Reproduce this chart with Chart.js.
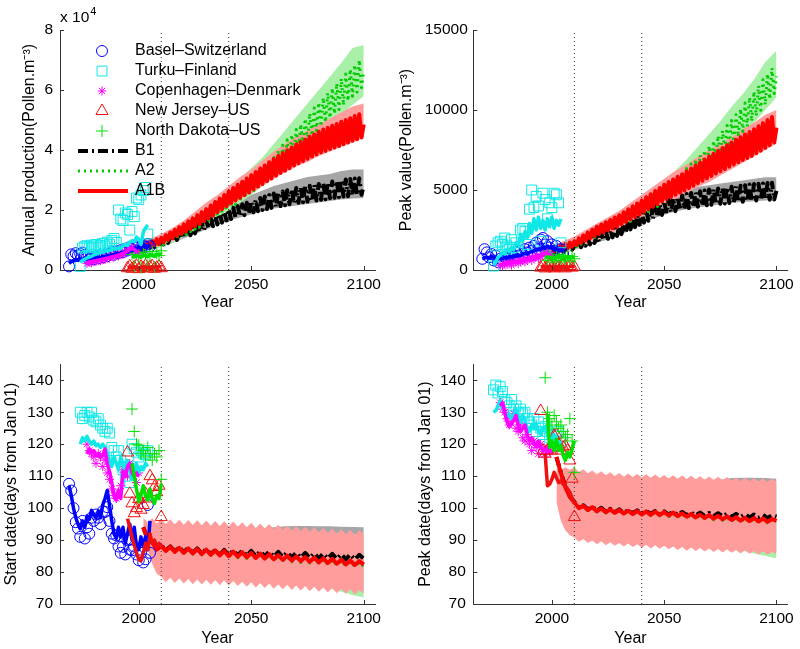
<!DOCTYPE html>
<html>
<head>
<meta charset="utf-8">
<title>Pollen: observations and projections</title>
<script src="https://cdn.jsdelivr.net/npm/chart.js@4.4.0/dist/chart.umd.min.js"></script>
<style>
  html, body { margin: 0; padding: 0; background: #fff; }
  #wrap { position: relative; width: 800px; height: 649px; overflow: hidden; }
  #wrap canvas { position: absolute; }
</style>
</head>
<body>
<div id="wrap">
  <canvas id="apChart" width="400" height="320" style="left:0;top:0"></canvas>
  <canvas id="pvChart" width="410" height="320" style="left:390px;top:0"></canvas>
  <canvas id="sdChart" width="400" height="329" style="left:0;top:320px"></canvas>
  <canvas id="pdChart" width="410" height="329" style="left:390px;top:320px"></canvas>
</div>
<script>
// ===================================
// Axis ticks and labels
// ===================================
const xTicks = [2000, 2050, 2100];
const periodYears = [2010, 2040];
const apTicks = [0, 20000, 40000, 60000, 80000];
const pvTicks = [0, 5000, 10000, 15000];
const dateTicks = [70, 80, 90, 100, 110, 120, 130, 140];

const stationNames = ["Basel\u2013Switzerland", "Turku\u2013Finland", "Copenhagen\u2013Denmark", "New Jersey\u2013US", "North Dakota\u2013US"];
const scenarioNames = ["B1", "A2", "A1B"];

// ===================================
// Years
// ===================================
const baselYears = [1969, 1970, 1971, 1972, 1973, 1974, 1975, 1976, 1977, 1978, 1979, 1980, 1981, 1982, 1983, 1984, 1985, 1986, 1987, 1988, 1989, 1990, 1991, 1992, 1993, 1994, 1995, 1996, 1997, 1998, 1999, 2000, 2001, 2002, 2003, 2004, 2005];
const turkuYears = [1974, 1975, 1976, 1977, 1978, 1979, 1980, 1981, 1982, 1983, 1984, 1985, 1986, 1987, 1988, 1989, 1990, 1991, 1992, 1993, 1994, 1995, 1996, 1997, 1998, 1999, 2000, 2001, 2002, 2003, 2004];
const copenhagenYears = [1977, 1978, 1979, 1980, 1981, 1982, 1983, 1984, 1985, 1986, 1987, 1988, 1989, 1990, 1991, 1992, 1993, 1994, 1995, 1996, 1997, 1998, 1999, 2000];
const newJerseyYears = [1995, 1996, 1997, 1998, 1999, 2000, 2001, 2002, 2003, 2004, 2005, 2006, 2007, 2008, 2009, 2010];
const northDakotaYears = [1997, 1998, 1999, 2000, 2001, 2002, 2003, 2004, 2005, 2006, 2007, 2008, 2009, 2010];

const annualYears = [2000, 2001, 2002, 2003, 2004, 2005, 2006, 2007, 2008, 2009, 2010, 2011, 2012, 2013, 2014, 2015, 2016, 2017, 2018, 2019, 2020, 2021, 2022, 2023, 2024, 2025, 2026, 2027, 2028, 2029, 2030, 2031, 2032, 2033, 2034, 2035, 2036, 2037, 2038, 2039, 2040, 2041, 2042, 2043, 2044, 2045, 2046, 2047, 2048, 2049, 2050, 2051, 2052, 2053, 2054, 2055, 2056, 2057, 2058, 2059, 2060, 2061, 2062, 2063, 2064, 2065, 2066, 2067, 2068, 2069, 2070, 2071, 2072, 2073, 2074, 2075, 2076, 2077, 2078, 2079, 2080, 2081, 2082, 2083, 2084, 2085, 2086, 2087, 2088, 2089, 2090, 2091, 2092, 2093, 2094, 2095, 2096, 2097, 2098, 2099, 2100];
const projYearsLate = [2002, 2004, 2006, 2008, 2010, 2012, 2014, 2016, 2018, 2020, 2022, 2024, 2026, 2028, 2030, 2032, 2034, 2036, 2038, 2040, 2042, 2044, 2046, 2048, 2050, 2052, 2054, 2056, 2058, 2060, 2062, 2064, 2066, 2068, 2070, 2072, 2074, 2076, 2078, 2080, 2082, 2084, 2086, 2088, 2090, 2092, 2094, 2096, 2098, 2100];
const bandYears = [2000, 2005, 2010, 2015, 2020, 2025, 2030, 2035, 2040, 2045, 2050, 2055, 2060, 2065, 2070, 2075, 2080, 2085, 2090, 2095, 2100];
const bandYearsLate = [2005, 2010, 2015, 2020, 2025, 2030, 2035, 2040, 2045, 2050, 2055, 2060, 2065, 2070, 2075, 2080, 2085, 2090, 2095, 2100];

// ===================================
// Annual production (Pollen.m-3)
// ===================================
const apBaselObs = [1200, 5200, 4600, 5600, 4900, 5400, 5800, 5000, 4200, 3500, 4200, 3600, 4500, 3900, 4800, 4200, 5000, 4600, 5400, 5900, 5100, 6200, 5700, 6600, 6000, 7100, 6500, 7600, 7000, 8100, 7400, 8400, 7600, 8200, 7700, 8700, 7900];
const apBaselFit = [2200, 2800, 3000, 3400, 3200, 3600, 3300, 3700, 3500, 3900, 3700, 4100, 3900, 4300, 4100, 4500, 4300, 4800, 4600, 5100, 4900, 5400, 5200, 5800, 5500, 6200, 5900, 6700, 6400, 7300, 7000, 7900, 7400, 8300, 7600, 8100, 7700];
const apTurkuObs = [1200, 7300, 7800, 8100, 7400, 8300, 7700, 8500, 7600, 8200, 8900, 8000, 9300, 8600, 9800, 10500, 9200, 20000, 17000, 16500, 19000, 18500, 13300, 19500, 17800, 24000, 23500, 25000, 26500, 27500, 12000];
const apTurkuFit = [2500, 3200, 3600, 4000, 4300, 4600, 5000, 5300, 5500, 5800, 6000, 6300, 6400, 6600, 6800, 7200, 7000, 7400, 7100, 8000, 8600, 8200, 9300, 9800, 9400, 11000, 10200, 8500, 12500, 14000, 15000];
const apCopenhagenObs = [2200, 2600, 2400, 3000, 2800, 3300, 3100, 3700, 3500, 4100, 3900, 4500, 4300, 5000, 4700, 5400, 5200, 6000, 6400, 7000, 7600, 6800, 6000, 5300];
const apCopenhagenFit = [2500, 2700, 2800, 3000, 3100, 3300, 3400, 3600, 3800, 4000, 4100, 4400, 4500, 4800, 5000, 5300, 5500, 5900, 6300, 6800, 7300, 6900, 6200, 5600];
const apNewJerseyObs = [600, 1200, 400, 900, 1500, 300, 1100, 700, 1400, 500, 1000, 1300, 400, 800, 1200, 600];
const apNewJerseyFit = [900, 1000, 800, 1100, 1000, 700, 900, 1100, 900, 1000, 800, 1100, 900, 1000, 1200, 900];
const apNorthDakotaObs = [5200, 1200, 5800, 4600, 800, 6000, 5400, 1500, 5000, 6200, 900, 5600, 4800, 6400];
const apNorthDakotaFit = [4600, 4300, 4900, 4500, 4200, 5000, 4700, 4400, 5100, 4800, 4500, 5200, 5000, 5400];

const apB1 = [7500, 6700, 8000, 7000, 8400, 7400, 8900, 7700, 9300, 8000, 9800, 8500, 10400, 9000, 11000, 9500, 11700, 10000, 12300, 10500, 12900, 11000, 13600, 11600, 14300, 12200, 15000, 12700, 15700, 13300, 16400, 13900, 17200, 14600, 17900, 15200, 18700, 15800, 19400, 16500, 20200, 17000, 20800, 17500, 21300, 17900, 21900, 18300, 22400, 18800, 23000, 19200, 23500, 19600, 24000, 20000, 24500, 20300, 25000, 20700, 25500, 21000, 25900, 21300, 26200, 21600, 26600, 21900, 26900, 22200, 27300, 22400, 27600, 22600, 27900, 22800, 28100, 23000, 28400, 23200, 28700, 23400, 29000, 23600, 29200, 23900, 29500, 24100, 29700, 24300, 30000, 24500, 30200, 24600, 30300, 24800, 30500, 25000, 30600, 25100, 28000];
const apA2 = [7600, 6600, 8100, 6900, 8600, 7300, 9000, 7700, 9500, 8000, 10000, 8500, 10800, 9200, 11600, 9900, 12500, 10500, 13300, 11200, 14100, 11900, 15100, 12800, 16100, 13600, 17100, 14400, 18100, 15300, 19100, 16200, 20200, 17100, 21300, 18100, 22500, 19100, 23600, 20000, 24700, 21000, 25800, 21900, 27000, 22900, 28100, 23800, 29300, 24700, 30400, 25900, 32000, 27200, 33500, 28500, 35100, 29800, 36600, 31100, 38200, 32500, 39900, 34000, 41600, 35500, 43400, 37000, 45100, 38500, 46800, 40000, 48600, 41600, 50400, 43200, 52200, 44800, 54000, 46400, 55800, 47900, 57400, 49300, 59000, 50700, 60600, 52100, 62200, 53500, 63800, 54900, 65300, 56400, 66900, 57900, 68400, 59300, 70000, 60800, 66500];
const apA1B = [8100, 7100, 8600, 7500, 9100, 7900, 9700, 8300, 10200, 8700, 10700, 9300, 11600, 10000, 12500, 10700, 13400, 11400, 14300, 12100, 15200, 12800, 16200, 13700, 17200, 14600, 18300, 15400, 19300, 16300, 20300, 17200, 21500, 18200, 22700, 19300, 23800, 20300, 25000, 21300, 26200, 22300, 27300, 23200, 28400, 24100, 29400, 25000, 30500, 25900, 31600, 26900, 32700, 27800, 33800, 28700, 34800, 29600, 35900, 30500, 37000, 31400, 38000, 32300, 38900, 33100, 39900, 33900, 40800, 34800, 41800, 35600, 42700, 36300, 43500, 37100, 44400, 37800, 45200, 38500, 46100, 39200, 46800, 39700, 47400, 40300, 48100, 40800, 48700, 41300, 49400, 41900, 50000, 42500, 50600, 43100, 51300, 43600, 51900, 44200, 48500];
const apB1Lo = [5800, 6800, 7700, 9000, 10500, 12000, 13500, 15000, 16500, 17500, 18500, 19500, 20500, 21000, 21500, 22000, 22500, 23000, 23500, 23800, 24000];
const apB1Hi = [9000, 10000, 11000, 13000, 15000, 17000, 18500, 20500, 22000, 23500, 25000, 26500, 28000, 29000, 30000, 31000, 31500, 32000, 33000, 33500, 33500];
const apA2Lo = [5800, 6800, 7700, 9000, 11000, 13000, 15000, 17500, 20000, 22500, 25000, 28000, 31500, 35000, 38500, 42000, 46000, 49500, 52000, 55000, 58000];
const apA2Hi = [9000, 10200, 11500, 13500, 16000, 19000, 21500, 24500, 27500, 30500, 34000, 37500, 42000, 46500, 51000, 55500, 60000, 64500, 69000, 74000, 75000];
const apA1BLo = [6000, 7000, 8000, 9500, 11500, 14000, 16000, 18500, 21000, 23500, 25500, 28000, 30500, 32500, 34500, 36000, 38000, 39500, 41000, 42500, 44000];
const apA1BHi = [9500, 10500, 12000, 14000, 16500, 19500, 22500, 25000, 28000, 31000, 33500, 36500, 39500, 42000, 44500, 46500, 48500, 50500, 52500, 54500, 55500];

// ===================================
// Peak value (Pollen.m-3)
// ===================================
const pvBaselObs = [700, 1300, 1100, 800, 1000, 600, 900, 500, 700, 600, 800, 700, 900, 1000, 800, 1100, 900, 1200, 1000, 1300, 1100, 1400, 1200, 1500, 1700, 1300, 1900, 2000, 1600, 1800, 1400, 1600, 1200, 1500, 1100, 1300, 1000];
const pvBaselFit = [700, 750, 800, 750, 850, 800, 750, 700, 750, 700, 800, 750, 850, 800, 900, 850, 950, 900, 1000, 1050, 1000, 1100, 1150, 1200, 1250, 1300, 1250, 1450, 1350, 1500, 1400, 1450, 1300, 1350, 1200, 1250, 1150];
const pvTurkuObs = [250, 1500, 1700, 1800, 1600, 2000, 1500, 1300, 1900, 1400, 1700, 1200, 2500, 2600, 2400, 1600, 3800, 5000, 3900, 4600, 4000, 1800, 4800, 4400, 3200, 4200, 3900, 4800, 4700, 4200, 1700];
const pvTurkuFit = [300, 500, 800, 900, 1100, 1000, 1300, 1200, 1400, 1300, 1700, 1600, 2200, 1800, 2400, 2000, 2900, 2300, 3200, 2500, 3300, 2600, 3100, 2500, 3200, 2700, 3300, 2600, 3100, 2800, 3200];
const pvCopenhagenObs = [300, 250, 400, 350, 500, 300, 450, 600, 400, 550, 700, 500, 650, 800, 600, 750, 900, 700, 850, 1000, 1200, 900, 1100, 800];
const pvCopenhagenFit = [350, 350, 400, 400, 450, 450, 500, 500, 550, 550, 600, 600, 650, 700, 700, 750, 800, 800, 850, 950, 1050, 1000, 950, 900];
const pvNewJerseyObs = [150, 250, 100, 200, 300, 150, 100, 250, 200, 150, 300, 100, 200, 250, 150, 200];
const pvNewJerseyFit = [200, 220, 180, 210, 240, 200, 170, 210, 230, 190, 220, 200, 180, 210, 230, 200];
const pvNorthDakotaObs = [900, 600, 1000, 750, 500, 850, 950, 600, 800, 700, 900, 550, 850, 700];
const pvNorthDakotaFit = [850, 780, 820, 760, 700, 800, 860, 740, 790, 760, 820, 740, 800, 780];

const pvB1 = [1200, 1030, 1280, 1090, 1360, 1150, 1440, 1210, 1520, 1270, 1600, 1340, 1710, 1430, 1830, 1520, 1940, 1600, 2060, 1690, 2170, 1770, 2280, 1860, 2390, 1950, 2510, 2040, 2620, 2130, 2730, 2240, 2900, 2390, 3080, 2540, 3250, 2680, 3430, 2830, 3600, 2960, 3740, 3080, 3880, 3200, 4020, 3320, 4160, 3440, 4300, 3540, 4390, 3610, 4480, 3680, 4570, 3750, 4660, 3820, 4750, 3870, 4810, 3920, 4860, 3960, 4920, 4000, 4970, 4050, 5030, 4080, 5060, 4110, 5100, 4140, 5130, 4160, 5170, 4190, 5200, 4210, 5230, 4240, 5270, 4270, 5300, 4290, 5340, 4320, 5370, 4340, 5390, 4360, 5410, 4380, 5440, 4390, 5460, 4410, 4950];
const pvA2 = [1250, 1090, 1340, 1160, 1430, 1230, 1520, 1300, 1610, 1370, 1700, 1470, 1880, 1610, 2060, 1760, 2230, 1900, 2410, 2040, 2590, 2160, 2720, 2270, 2850, 2380, 2990, 2490, 3120, 2600, 3250, 2730, 3440, 2880, 3620, 3040, 3810, 3190, 3990, 3340, 4180, 3500, 4360, 3650, 4550, 3810, 4730, 3970, 4920, 4120, 5100, 4310, 5350, 4520, 5600, 4730, 5850, 4940, 6100, 5150, 6350, 5370, 6630, 5610, 6910, 5850, 7190, 6090, 7470, 6330, 7750, 6590, 8070, 6870, 8390, 7150, 8710, 7430, 9030, 7710, 9350, 8010, 9710, 8330, 10070, 8650, 10430, 8970, 10790, 9290, 11150, 9630, 11520, 9980, 11890, 10330, 12260, 10680, 12630, 11030, 12100];
const pvA1B = [1350, 1190, 1440, 1260, 1530, 1330, 1620, 1400, 1710, 1470, 1800, 1570, 1980, 1710, 2160, 1850, 2340, 1990, 2520, 2130, 2700, 2260, 2840, 2370, 2990, 2490, 3130, 2610, 3280, 2720, 3420, 2860, 3610, 3010, 3790, 3170, 3980, 3320, 4160, 3470, 4350, 3630, 4550, 3800, 4740, 3960, 4940, 4120, 5130, 4290, 5330, 4440, 5500, 4570, 5660, 4710, 5830, 4840, 5990, 4970, 6160, 5120, 6350, 5270, 6530, 5430, 6720, 5580, 6900, 5730, 7090, 5880, 7270, 6030, 7440, 6170, 7620, 6310, 7790, 6460, 7970, 6600, 8140, 6730, 8300, 6870, 8470, 7000, 8630, 7130, 8800, 7290, 8990, 7460, 9180, 7630, 9370, 7800, 9560, 7970, 8900];
const pvB1Lo = [850, 1050, 1250, 1450, 1700, 1900, 2150, 2500, 2850, 3200, 3450, 3650, 3800, 3900, 4000, 4100, 4200, 4250, 4300, 4350, 4400];
const pvB1Hi = [1450, 1700, 1950, 2250, 2550, 2800, 3150, 3550, 3950, 4300, 4600, 4850, 5050, 5200, 5300, 5400, 5500, 5600, 5700, 5800, 5800];
const pvA2Lo = [850, 1050, 1250, 1550, 1850, 2100, 2400, 2800, 3200, 3600, 4000, 4500, 5100, 5700, 6300, 7000, 7700, 8400, 9200, 10000, 10800];
const pvA2Hi = [1450, 1750, 2050, 2450, 2850, 3250, 3650, 4100, 4600, 5100, 5600, 6200, 6900, 7700, 8500, 9300, 10200, 11000, 11900, 13000, 13700];
const pvA1BLo = [900, 1100, 1300, 1600, 1900, 2200, 2500, 2900, 3300, 3700, 4100, 4400, 4800, 5200, 5500, 5900, 6300, 6700, 7100, 7500, 7900];
const pvA1BHi = [1500, 1800, 2100, 2500, 2900, 3300, 3700, 4200, 4700, 5200, 5700, 6200, 6600, 7100, 7500, 7900, 8300, 8800, 9200, 9700, 10000];

// ===================================
// Start date (days from Jan 01)
// ===================================
const sdBaselObs = [107.6, 105.5, 100, 95.6, 93.6, 91, 96, 90.5, 94, 92, 97, 96, 98, 97, 95, 99, 98.8, 100.3, 96, 92, 90.5, 91.5, 88, 86, 87.9, 85.5, 89.9, 87, 86.8, 88, 85.5, 83.7, 86, 83, 84, 101, 86];
const sdBaselFit = [107, 104, 100, 97, 95, 93.5, 96, 94, 97.5, 96.5, 99.3, 98, 97, 99, 97, 101, 103, 105.5, 101, 96, 92, 90.5, 94, 91, 94, 89, 92, 95, 90, 94, 88, 87, 91, 88, 91, 87, 96];
const sdTurkuObs = [130, 128, 129, 130, 128.5, 130, 127.5, 127, 128, 126, 125, 124, 125, 123.5, 119, 118, 116, 118, 115, 112, 110, 113, 108, 120, 118.6, 117.5, 116, 118, 117, 116.7, 118];
const sdTurkuFit = [120, 122, 121, 122.5, 121, 120, 121, 119.5, 120, 119, 120, 119, 117, 115, 113, 116, 114, 112, 116, 114, 111, 115, 112, 109, 112, 114, 111, 113, 112, 114, 113];
const sdCopenhagenObs = [120, 118, 117, 116, 114, 117, 116, 113, 115, 111, 109, 106, 104, 103, 105, 107, 112, 113, 110, 114, 112, 110, 108, 111];
const sdCopenhagenFit = [117, 118.5, 117.5, 118, 116.5, 117, 116, 116.5, 118.5, 114, 111.5, 108, 104, 102.5, 105.5, 103, 111.5, 110, 113, 114, 111, 110, 111, 110];
const sdNewJerseyObs = [117.4, 104.5, 101.5, 98.4, 100, 102.8, 99.5, 101, 104.5, 103, 110, 108.7, 106.6, 105, 107, 97.2];
const sdNewJerseyFit = [96.7, 94, 91, 88.5, 86, 84, 83.5, 86, 89, 87, 92, 89, 90, 88, 89, 88];
const sdNorthDakotaObs = [131, 124, 120, 119.7, 117, 118, 116, 119, 117, 115, 117, 116, 118, 109];
const sdNorthDakotaFit = [114, 110, 106, 102, 104, 107, 104, 102.5, 106, 103, 101.5, 104, 103, 107.6];

const sdB1 = [94, 90.2, 89.5, 87.2, 88.4, 86.8, 88.0, 86.5, 87.8, 86.2, 87.6, 86.0, 87.4, 85.8, 87.2, 85.6, 87.0, 85.4, 86.9, 85.3, 86.8, 85.2, 86.7, 85.1, 86.6, 85.0, 86.5, 84.9, 86.4, 84.8, 86.3, 84.7, 86.2, 84.6, 86.1, 84.5, 86.0, 84.4, 85.9, 84.3, 85.8, 84.2, 85.7, 84.1, 85.6, 84.0, 85.5, 83.9, 85.4, 84.2];
const sdA2 = [93.8, 89.8, 89.0, 86.8, 88.0, 86.4, 87.7, 86.1, 87.4, 85.8, 87.2, 85.6, 87.0, 85.4, 86.8, 85.2, 86.6, 85.0, 86.4, 84.8, 86.1, 84.5, 85.9, 84.3, 85.7, 84.1, 85.4, 83.9, 85.2, 83.6, 85.0, 83.4, 84.7, 83.2, 84.5, 83.0, 84.3, 82.8, 84.1, 82.6, 83.8, 82.4, 83.6, 82.2, 83.4, 82.0, 83.1, 81.8, 82.9, 81.8];
const sdA1B = [94, 90, 89.3, 87.0, 88.2, 86.6, 87.9, 86.3, 87.6, 86.0, 87.4, 85.8, 87.2, 85.6, 87.0, 85.4, 86.8, 85.2, 86.6, 85.0, 86.4, 84.8, 86.2, 84.6, 86.0, 84.4, 85.8, 84.2, 85.6, 84.0, 85.3, 83.8, 85.1, 83.6, 84.9, 83.4, 84.7, 83.2, 84.5, 83.0, 84.3, 82.8, 84.1, 82.6, 83.8, 82.4, 83.6, 82.2, 83.4, 82.3];
const sdB1Lo = [86, 79, 78.3, 78.0, 77.9, 77.8, 77.6, 77.4, 77.2, 77.0, 76.8, 76.6, 76.4, 76.2, 76.0, 75.8, 75.6, 75.4, 75.2, 75.0];
const sdB1Hi = [95.0, 94.9, 94.8, 94.7, 94.6, 94.4, 94.3, 94.2, 94.0, 93.8, 93.6, 94.0, 94.3, 94.4, 94.4, 94.3, 94.3, 94.2, 94.1, 94.0];
const sdA2Lo = [86, 79, 78.3, 78.0, 77.9, 77.8, 77.6, 77.4, 77.2, 77.0, 76.8, 76.6, 76.4, 76.2, 76.0, 75.6, 74.8, 73.8, 72.8, 72.0];
const sdA2Hi = [94.8, 94.7, 94.6, 94.5, 94.4, 94.2, 94.1, 94.0, 93.8, 93.6, 93.4, 93.2, 93.0, 92.8, 92.6, 92.4, 92.2, 92.0, 91.8, 91.5];
const sdA1BLo = [93, 87, 82.5, 79.5, 78.5, 76.8, 78.2, 76.6, 78.0, 76.4, 77.8, 76.2, 77.7, 76.1, 77.6, 76.0, 77.5, 75.9, 77.4, 75.8, 77.2, 75.6, 77.0, 75.4, 76.8, 75.2, 76.6, 75.0, 76.4, 74.8, 76.2, 74.6, 76.0, 74.4, 75.8, 74.2, 75.6, 74.0, 75.4, 73.8, 75.2, 73.6, 75.0, 73.4, 74.8, 73.2, 74.6, 73.0, 74.4, 73.2];
const sdA1BHi = [97, 95.5, 96.8, 95.2, 96.6, 95.0, 96.5, 94.9, 96.4, 94.8, 96.3, 94.7, 96.2, 94.6, 96.1, 94.5, 96.0, 94.4, 95.9, 94.3, 95.8, 94.2, 95.6, 94.0, 95.4, 93.8, 95.2, 93.6, 95.0, 93.4, 94.8, 93.2, 94.6, 93.0, 94.4, 92.8, 94.2, 92.6, 94.0, 92.4, 93.8, 92.2, 93.6, 92.0, 93.4, 91.8, 93.2, 91.6, 93.0, 92.0];

// ===================================
// Peak date (days from Jan 01) - no Basel record
// ===================================
const pdTurkuObs = [137, 138.5, 136, 138, 136.5, 134, 133, 132, 134, 131, 132, 130, 131, 129.5, 130, 128, 127, 126, 128, 124, 127, 125, 123, 125.5, 124, 122, 123, 121, 122.5, 124, 121];
const pdTurkuFit = [130, 130.5, 132, 133.5, 131.5, 130, 128.5, 129.5, 128, 129, 131, 128.5, 127, 129, 127.5, 125, 124, 126, 125, 126.5, 124, 123, 125, 125.5, 123, 122, 121.5, 123, 121, 120, 121];
const pdCopenhagenObs = [133, 131, 130, 128, 126, 127, 129.5, 125, 124, 126, 122, 121, 123, 120, 118, 121, 119, 117, 120, 118.5, 117, 119, 117.5, 118];
const pdCopenhagenFit = [132, 133, 130, 127, 125.5, 126.3, 127.5, 129, 126, 124, 125, 126, 123, 121, 122, 120, 119.5, 121, 119, 118, 118.5, 117.5, 118, 117.5];
const pdNewJerseyObs = [130.4, 118, 117, 118, 119, 118, 122.6, 123, 120, 118, 119, 119.5, 118, 114.9, 109.2, 97.2];
const pdNewJerseyFit = [null, null, 117, 107, 107.5, 109, 111.2, 109.5, 108, 108.5, 107.5, 107, 106, 105, 103, 101.5];
const pdNorthDakotaObs = [140.8, 130, 128, 126, 129, 127, 125, 126, 124, 122, 123, 128, 121, 111.2];
const pdNorthDakotaFit = [null, 129.4, 119, 121, 118, 121.5, 118, 119.5, 116.5, 115, 117.5, 116, 118.5, 121];

const pdB1 = [116.0, 111.2, 106.7, 103.7, 102.0, 100.2, 100.9, 99.6, 100.5, 99.2, 100.1, 98.9, 99.8, 98.7, 99.6, 98.5, 99.4, 98.4, 99.3, 98.3, 99.2, 98.2, 99.1, 98.1, 99.0, 98.0, 98.9, 97.9, 98.8, 97.8, 98.7, 97.7, 98.6, 97.6, 98.5, 97.5, 98.4, 97.4, 98.3, 97.3, 98.2, 97.2, 98.1, 97.1, 98.0, 97.0, 97.9, 96.9, 97.8, 97.3];
const pdA2 = [115.8, 110.8, 106.3, 103.3, 101.6, 99.8, 100.5, 99.2, 100.1, 98.8, 99.7, 98.5, 99.4, 98.3, 99.2, 98.1, 99.0, 97.9, 98.9, 97.8, 98.8, 97.7, 98.7, 97.6, 98.5, 97.4, 98.3, 97.2, 98.1, 97.0, 97.9, 96.8, 97.7, 96.6, 97.5, 96.4, 97.3, 96.2, 97.1, 96.0, 96.9, 95.8, 96.7, 95.6, 96.6, 95.5, 96.5, 95.4, 96.3, 95.7];
const pdA1B = [116.0, 111.0, 106.5, 103.5, 101.8, 100.0, 100.7, 99.4, 100.3, 99.0, 99.9, 98.7, 99.6, 98.5, 99.4, 98.3, 99.2, 98.1, 99.1, 98.0, 99.0, 97.9, 98.9, 97.8, 98.8, 97.7, 98.6, 97.5, 98.4, 97.3, 98.2, 97.1, 98.0, 96.9, 97.8, 96.7, 97.6, 96.5, 97.4, 96.3, 97.2, 96.1, 97.0, 95.9, 96.9, 95.8, 96.8, 95.7, 96.6, 96.0];
const pdB1Lo = [95, 91.0, 90.4, 90.0, 89.6, 89.3, 89.1, 88.9, 88.7, 88.5, 88.3, 88.1, 87.9, 87.7, 87.6, 87.4, 87.2, 87.0, 86.8, 86.6];
const pdB1Hi = [111.8, 111.4, 110.8, 110.5, 110.2, 109.8, 109.6, 109.5, 109.4, 109.3, 109.2, 109.1, 109.0, 108.9, 108.9, 109.4, 109.5, 109.5, 109.4, 109.2];
const pdA2Lo = [95, 91.0, 90.4, 90.0, 89.6, 89.3, 89.1, 88.9, 88.7, 88.5, 88.3, 88.1, 87.9, 87.7, 87.5, 87.2, 86.7, 85.8, 85.0, 84.3];
const pdA2Hi = [111.6, 111.2, 110.6, 110.3, 110.0, 109.6, 109.4, 109.3, 109.2, 109.1, 109.0, 108.9, 108.8, 108.7, 108.6, 108.5, 108.4, 108.3, 108.2, 108.0];
const pdA1BLo = [102, 96, 93, 91.5, 90.8, 89.5, 90.3, 89.1, 89.9, 88.7, 89.6, 88.4, 89.3, 88.2, 89.1, 88.0, 88.9, 87.8, 88.7, 87.6, 88.5, 87.4, 88.4, 87.3, 88.2, 87.1, 88.0, 86.9, 87.8, 86.7, 87.7, 86.6, 87.5, 86.4, 87.4, 86.3, 87.2, 86.1, 87.1, 86.0, 86.9, 85.8, 86.8, 85.7, 86.6, 85.5, 86.5, 85.4, 86.3, 85.6];
const pdA1BHi = [112.5, 112.0, 112.8, 112.0, 112.8, 111.3, 112.2, 110.9, 111.8, 110.6, 111.5, 110.3, 111.2, 110.0, 111.0, 109.8, 110.8, 109.7, 110.7, 109.6, 110.6, 109.5, 110.5, 109.4, 110.4, 109.3, 110.3, 109.2, 110.2, 109.1, 110.1, 109.0, 110.0, 108.9, 109.9, 108.8, 109.8, 108.7, 109.7, 108.6, 109.6, 108.5, 109.5, 108.4, 109.4, 108.3, 109.3, 108.2, 109.2, 108.3];

// ===================================
// Styles
// ===================================
const FONT_FAMILY = '"Liberation Sans", Arial, Helvetica, sans-serif';
const TICK_FONT = { family: FONT_FAMILY, size: 15.5 };
const TITLE_FONT = { family: FONT_FAMILY, size: 16 };
const AXIS_COLOR = "#333";

const stationStyles = [
  { color: "#0000ff", pointStyle: "circle", radius: 5.5 },
  { color: "#10e8e8", pointStyle: "rect", radius: 7 },
  { color: "#ff00ff", pointStyle: "star", radius: 4.5 },
  { color: "#ee1111", pointStyle: "triangle", radius: 7 },
  { color: "#00e000", pointStyle: "cross", radius: 6 },
];

const scenarioStyles = [
  { color: "#000000", dash: [10, 4, 2, 4], width: 4, band: "#a6a6a6" },
  { color: "#00cc00", dash: [2, 4], width: 3, band: "#a8f0a8" },
  { color: "#ff0000", dash: [], width: 4, band: "#ff9c9c" },
];

// ===================================
// Panels
// ===================================
const apPanel = {
  obs: [
    { years: baselYears, obs: apBaselObs, fit: apBaselFit },
    { years: turkuYears, obs: apTurkuObs, fit: apTurkuFit },
    { years: copenhagenYears, obs: apCopenhagenObs, fit: apCopenhagenFit },
    { years: newJerseyYears, obs: apNewJerseyObs, fit: apNewJerseyFit },
    { years: northDakotaYears, obs: apNorthDakotaObs, fit: apNorthDakotaFit },
  ],
  scen: [
    { years: annualYears, values: apB1, bandYears: bandYears, lo: apB1Lo, hi: apB1Hi },
    { years: annualYears, values: apA2, bandYears: bandYears, lo: apA2Lo, hi: apA2Hi },
    { years: annualYears, values: apA1B, bandYears: bandYears, lo: apA1BLo, hi: apA1BHi },
  ],
};

const pvPanel = {
  obs: [
    { years: baselYears, obs: pvBaselObs, fit: pvBaselFit },
    { years: turkuYears, obs: pvTurkuObs, fit: pvTurkuFit },
    { years: copenhagenYears, obs: pvCopenhagenObs, fit: pvCopenhagenFit },
    { years: newJerseyYears, obs: pvNewJerseyObs, fit: pvNewJerseyFit },
    { years: northDakotaYears, obs: pvNorthDakotaObs, fit: pvNorthDakotaFit },
  ],
  scen: [
    { years: annualYears, values: pvB1, bandYears: bandYears, lo: pvB1Lo, hi: pvB1Hi },
    { years: annualYears, values: pvA2, bandYears: bandYears, lo: pvA2Lo, hi: pvA2Hi },
    { years: annualYears, values: pvA1B, bandYears: bandYears, lo: pvA1BLo, hi: pvA1BHi },
  ],
};

const sdPanel = {
  obs: [
    { years: baselYears, obs: sdBaselObs, fit: sdBaselFit },
    { years: turkuYears, obs: sdTurkuObs, fit: sdTurkuFit },
    { years: copenhagenYears, obs: sdCopenhagenObs, fit: sdCopenhagenFit },
    { years: newJerseyYears, obs: sdNewJerseyObs, fit: sdNewJerseyFit },
    { years: northDakotaYears, obs: sdNorthDakotaObs, fit: sdNorthDakotaFit },
  ],
  scen: [
    { years: projYearsLate, values: sdB1, bandYears: bandYearsLate, lo: sdB1Lo, hi: sdB1Hi },
    { years: projYearsLate, values: sdA2, bandYears: bandYearsLate, lo: sdA2Lo, hi: sdA2Hi },
    { years: projYearsLate, values: sdA1B, bandYears: projYearsLate, lo: sdA1BLo, hi: sdA1BHi },
  ],
};

const pdPanel = {
  obs: [
    null,
    { years: turkuYears, obs: pdTurkuObs, fit: pdTurkuFit },
    { years: copenhagenYears, obs: pdCopenhagenObs, fit: pdCopenhagenFit },
    { years: newJerseyYears, obs: pdNewJerseyObs, fit: pdNewJerseyFit },
    { years: northDakotaYears, obs: pdNorthDakotaObs, fit: pdNorthDakotaFit },
  ],
  scen: [
    { years: projYearsLate, values: pdB1, bandYears: bandYearsLate, lo: pdB1Lo, hi: pdB1Hi },
    { years: projYearsLate, values: pdA2, bandYears: bandYearsLate, lo: pdA2Lo, hi: pdA2Hi },
    { years: projYearsLate, values: pdA1B, bandYears: projYearsLate, lo: pdA1BLo, hi: pdA1BHi },
  ],
};

// ===================================
// Dataset builder
// ===================================
function pts(xs, ys) {
  return xs.map((x, i) => ({ x: x, y: ys[i] }));
}

function buildDatasets(panel, yMin, yMax) {
  const sets = [];

  // Uncertainty bands: lower edge, then upper edge filled down to it
  panel.scen.forEach((s, i) => {
    const sc = scenarioStyles[i];
    sets.push({ data: pts(s.bandYears, s.lo), borderWidth: 0, borderColor: "rgba(0,0,0,0)", pointRadius: 0, fill: false });
    sets.push({ data: pts(s.bandYears, s.hi), borderWidth: 0, borderColor: "rgba(0,0,0,0)", pointRadius: 0, fill: "-1", backgroundColor: sc.band });
  });

  // Dotted period markers
  periodYears.forEach((yr) => {
    sets.push({
      data: [{ x: yr, y: yMin }, { x: yr, y: yMax }],
      borderColor: "#333", borderWidth: 1, borderDash: [1, 3], pointRadius: 0, fill: false,
    });
  });

  // Scenario lines
  panel.scen.forEach((s, i) => {
    const sc = scenarioStyles[i];
    sets.push({
      data: pts(s.years, s.values), borderColor: sc.color, borderWidth: sc.width,
      borderDash: sc.dash, borderJoinStyle: "round", pointRadius: 0, fill: false,
    });
  });

  // Station observations (markers)
  panel.obs.forEach((o, i) => {
    if (!o) return;
    const st = stationStyles[i];
    sets.push({
      data: pts(o.years, o.obs), showLine: false, borderColor: st.color,
      pointStyle: st.pointStyle, pointRadius: st.radius, pointBorderColor: st.color,
      pointBackgroundColor: "rgba(0,0,0,0)", pointBorderWidth: 1, fill: false, clip: 10,
    });
  });

  // Station model lines
  panel.obs.forEach((o, i) => {
    if (!o) return;
    const st = stationStyles[i];
    sets.push({
      data: pts(o.years, o.fit), borderColor: st.color, borderWidth: 3.5,
      borderJoinStyle: "round", pointRadius: 0, fill: false,
    });
  });

  // First pushed = drawn first (at the back)
  sets.forEach((d, i) => { d.order = sets.length - i; });
  return sets;
}

// ===================================
// Plugins
// ===================================
const inwardTicks = {
  id: "inwardTicks",
  afterDraw(chart) {
    const { ctx, chartArea, scales } = chart;
    ctx.save();
    ctx.strokeStyle = AXIS_COLOR;
    ctx.lineWidth = 1;
    scales.x.ticks.forEach((t) => {
      const px = Math.round(scales.x.getPixelForValue(t.value)) + 0.5;
      ctx.beginPath();
      ctx.moveTo(px, chartArea.bottom);
      ctx.lineTo(px, chartArea.bottom - 4);
      ctx.stroke();
    });
    scales.y.ticks.forEach((t) => {
      const py = Math.round(scales.y.getPixelForValue(t.value)) + 0.5;
      ctx.beginPath();
      ctx.moveTo(chartArea.left, py);
      ctx.lineTo(chartArea.left + 4, py);
      ctx.stroke();
    });
    ctx.restore();
  },
};

const exponentLabel = {
  id: "exponentLabel",
  afterDraw(chart) {
    const { ctx, chartArea } = chart;
    ctx.save();
    ctx.fillStyle = "#000";
    ctx.textBaseline = "alphabetic";
    ctx.font = "15.5px " + FONT_FAMILY;
    const base = "x 10";
    ctx.fillText(base, chartArea.left, chartArea.top - 8);
    const w = ctx.measureText(base).width;
    ctx.font = "11px " + FONT_FAMILY;
    ctx.fillText("4", chartArea.left + w + 1, chartArea.top - 15);
    ctx.restore();
  },
};

const panelLegend = {
  id: "panelLegend",
  afterDatasetsDraw(chart) {
    const { ctx, chartArea } = chart;
    const names = stationNames.concat(scenarioNames);
    const markerX = chartArea.left + 42;
    ctx.save();
    ctx.font = "16px " + FONT_FAMILY;
    ctx.textBaseline = "middle";
    names.forEach((name, i) => {
      const y = chartArea.top + 21 + i * 20;
      if (i < stationStyles.length) {
        const st = stationStyles[i];
        ctx.strokeStyle = st.color;
        ctx.fillStyle = "rgba(0,0,0,0)";
        ctx.lineWidth = 1;
        Chart.helpers.drawPoint(ctx, { pointStyle: st.pointStyle, radius: st.radius, rotation: 0, borderWidth: 1 }, markerX, y);
      } else {
        const sc = scenarioStyles[i - stationStyles.length];
        ctx.strokeStyle = sc.color;
        ctx.lineWidth = sc.width;
        ctx.setLineDash(sc.dash);
        ctx.beginPath();
        ctx.moveTo(markerX - 24, y);
        ctx.lineTo(markerX + 26, y);
        ctx.stroke();
        ctx.setLineDash([]);
      }
      ctx.fillStyle = "#000";
      ctx.fillText(name, chartArea.left + 75, y);
    });
    ctx.restore();
  },
};

// ===================================
// Chart factory
// ===================================
function makeChart(id, panel, axis, layout, extraPlugins) {
  const ctx = document.getElementById(id).getContext("2d");
  return new Chart(ctx, {
    type: "line",
    data: { datasets: buildDatasets(panel, axis.min, axis.max) },
    options: {
      responsive: false,
      animation: false,
      devicePixelRatio: 1,
      layout: { padding: { left: 0, top: layout.top, right: layout.right, bottom: 0 } },
      plugins: { legend: { display: false }, tooltip: { enabled: false } },
      elements: { line: { tension: 0 }, point: { hitRadius: 0, hoverRadius: 0 } },
      scales: {
        x: {
          type: "linear", min: 1965, max: 2105,
          afterBuildTicks: (scale) => { scale.ticks = xTicks.map((v) => ({ value: v })); },
          afterFit: (scale) => { scale.height = layout.xHeight; },
          grid: { display: false, drawTicks: false },
          border: { display: true, color: AXIS_COLOR, width: 1 },
          ticks: { font: TICK_FONT, color: "#000", padding: layout.xTickPad, maxRotation: 0, autoSkip: false, callback: (v) => String(v) },
          title: { display: true, text: "Year", font: TITLE_FONT, color: "#000", padding: { top: 0, bottom: layout.xTitlePad } },
        },
        y: {
          type: "linear", min: axis.min, max: axis.max,
          afterBuildTicks: (scale) => { scale.ticks = axis.ticks.map((v) => ({ value: v })); },
          afterFit: (scale) => { scale.width = layout.yWidth; },
          grid: { display: false, drawTicks: false },
          border: { display: true, color: AXIS_COLOR, width: 1 },
          ticks: { font: TICK_FONT, color: "#000", padding: layout.yTickPad, autoSkip: false, callback: axis.format },
          title: { display: true, text: axis.title, font: TITLE_FONT, color: "#000", padding: { top: layout.yTitlePad, bottom: 0 } },
        },
      },
    },
    plugins: [inwardTicks].concat(extraPlugins || []),
  });
}

// ===================================
// Initialize
// ===================================
makeChart("apChart", apPanel,
  { min: 0, max: 80000, ticks: apTicks, format: (v) => String(v / 10000), title: "Annual production(Pollen.m\u207B\u00B3)" },
  { top: 30, right: 25, yWidth: 60, xHeight: 50, yTickPad: 7, xTickPad: 5.7, yTitlePad: 20.4, xTitlePad: 7.4 },
  [exponentLabel, panelLegend]);

makeChart("pvChart", pvPanel,
  { min: 0, max: 15000, ticks: pvTicks, format: (v) => String(v), title: "Peak value(Pollen.m\u207B\u00B3)" },
  { top: 30, right: 12.3, yWidth: 83.3, xHeight: 50, yTickPad: 5.5, xTickPad: 5.7, yTitlePad: 7.1, xTitlePad: 7.4 });

makeChart("sdChart", sdPanel,
  { min: 70, max: 145, ticks: dateTicks, format: (v) => String(v), title: "Start date(days from Jan 01)" },
  { top: 44.3, right: 25, yWidth: 60, xHeight: 45, yTickPad: 7, xTickPad: 5, yTitlePad: 2.1, xTitlePad: 1.1 });

makeChart("pdChart", pdPanel,
  { min: 70, max: 145, ticks: dateTicks, format: (v) => String(v), title: "Peak date(days from Jan 01)" },
  { top: 44.3, right: 12.3, yWidth: 83.3, xHeight: 45, yTickPad: 7.5, xTickPad: 5, yTitlePad: 26, xTitlePad: 1.1 });
</script>
</body>
</html>
